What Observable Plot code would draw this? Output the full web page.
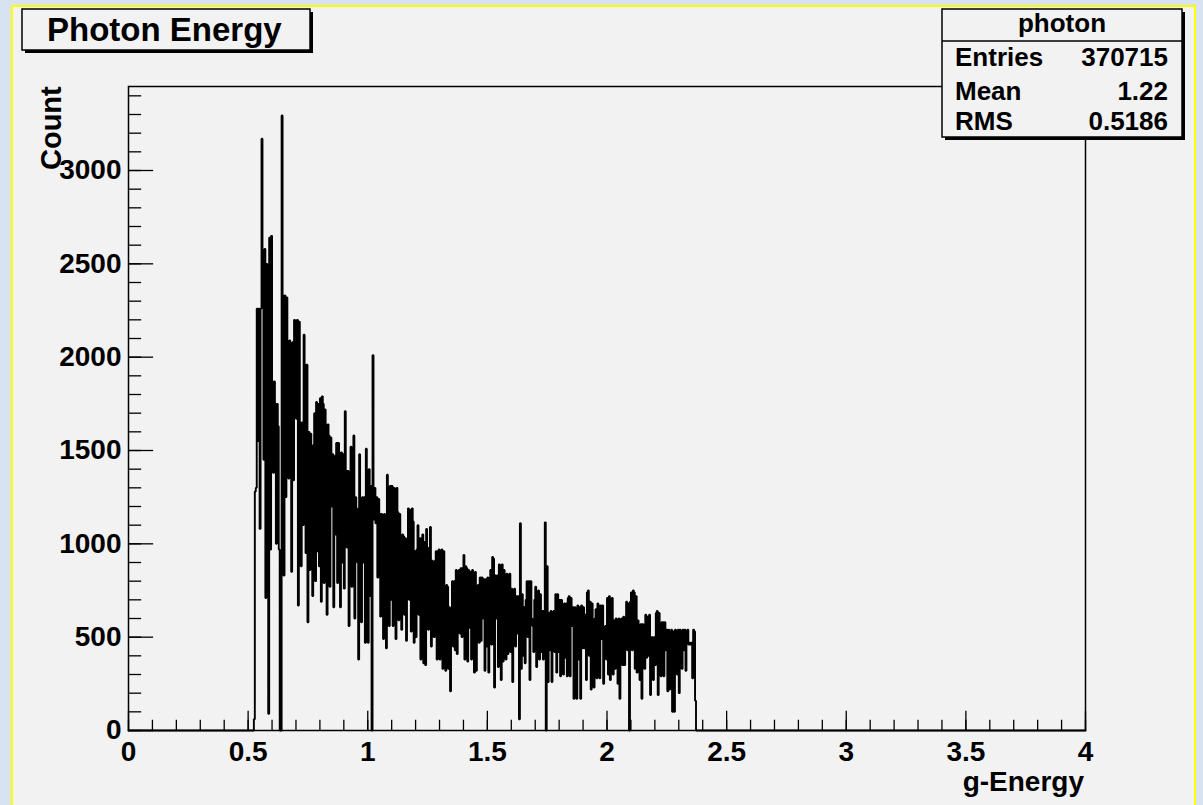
<!DOCTYPE html>
<html>
<head>
<meta charset="utf-8">
<script src="https://cdn.jsdelivr.net/npm/d3@7"></script>
<script src="https://cdn.jsdelivr.net/npm/@observablehq/plot@0.6"></script>
<style>
  html, body { margin: 0; padding: 0; background: #d7e3f0; }
  #wrap { position: relative; width: 1203px; height: 805px; overflow: hidden; background: #d7e3f0; font-family: "Liberation Sans", Arial, sans-serif; }
  #panel { position: absolute; left: 11px; top: 5px; width: 1181px; height: 830px; background: #f2f2f2; border: 2px solid #ffff00; }
  #chart { position: absolute; left: 0; top: 0; }
  #chart svg { max-width: none; }
  #overlay { position: absolute; left: 0; top: 0; pointer-events: none; }
</style>
</head>
<body>
<div id="wrap">
  <div id="panel"></div>
  <div id="chart"></div>
  <svg id="overlay" width="1203" height="805" font-family="Liberation Sans, Arial, sans-serif" font-weight="bold">
    <rect x="25" y="12" width="288" height="41" fill="#000"></rect>
    <rect x="22" y="9" width="288" height="41" fill="#f2f2f2" stroke="#000" stroke-width="1.5"></rect>
    <text id="title" x="47" y="41" font-size="33"></text>
    <rect x="945" y="12" width="240" height="128" fill="#000"></rect>
    <rect x="942" y="9" width="240" height="128" fill="#f2f2f2" stroke="#000" stroke-width="1.5"></rect>
    <line x1="942" x2="1182" y1="41" y2="41" stroke="#000" stroke-width="1.5"></line>
    <g id="stats" font-size="26"></g>
    <text id="ylabel" transform="translate(61,170) rotate(-90)" font-size="29"></text>
    <text id="xlabel" x="1084" y="791" text-anchor="end" font-size="28"></text>
  </svg>
</div>
<script>
// ---- Data ----
const chartTitle = "Photon Energy";
const xAxisTitle = "g-Energy";
const yAxisTitle = "Count";
const statsName = "photon";
const statsLabels = ["Entries", "Mean", "RMS"];
const statsValues = ["370715", "1.22", "0.5186"];

const xTicks = [0, 0.5, 1, 1.5, 2, 2.5, 3, 3.5, 4];
const xTickLabels = ["0", "0.5", "1", "1.5", "2", "2.5", "3", "3.5", "4"];
const yTicks = [0, 500, 1000, 1500, 2000, 2500, 3000];
const yTickLabels = ["0", "500", "1000", "1500", "2000", "2500", "3000"];
const xDomain = [0, 4];
const yDomain = [0, 3450];

// histogram bins: first bin low edge and bin width (g-Energy units)
const binStart = 0.52;
const binWidth = 0.004;
// counts per bin, one row per 0.1 of g-Energy (first row starts at 0.52)
const counts = [
  0, 60, 1280, 1300, 2260, 1550, 2260, 1080, 2260, 3170, 2570, 1450, 2580, 710, 2500, 1220, 90, 2640, 970, 2650,
  1870, 1380, 1870, 1750, 1000, 1750, 1630, 970, 0, 0, 3295, 2330, 830, 2330, 1250, 2320, 1990, 1350, 2090, 1960, 850, 2080, 1340, 2200, 2190,
  1670, 2200, 670, 2190, 1650, 880, 1650, 1100, 2120, 1960, 950, 1960, 580, 1600, 860, 1590, 1520, 720, 1530, 1700, 800, 1760, 960, 1750, 880,
  1780, 690, 1790, 1750, 790, 1720, 1100, 620, 1640, 1580, 770, 1570, 1200, 1480, 660, 1470, 1050, 1540, 790, 1540, 1480, 660, 1490, 900, 1480,
  760, 1710, 1390, 980, 1390, 560, 1380, 1520, 770, 1300, 1580, 600, 1250, 1190, 900, 380, 1480, 1100, 580, 1250, 900, 1250, 470, 1510, 1330,
  470, 1400, 720, 1310, 0, 2010, 1130, 1300, 1110, 1250, 820, 1240, 1160, 610, 1160, 1150, 490, 1160, 1050, 440, 1370, 900, 560, 1310, 700,
  1310, 560, 1300, 1170, 490, 1300, 1170, 590, 1160, 900, 540, 1050, 1040, 620, 1030, 480, 1020, 1190, 700, 1180, 530, 1190, 1120, 470, 960,
  500, 970, 1100, 620, 1030, 380, 1030, 1050, 360, 1010, 350, 1080, 980, 540, 970, 1090, 450, 910, 900, 500, 910, 960, 380, 960, 970,
  380, 960, 970, 330, 960, 700, 320, 780, 770, 330, 660, 210, 640, 800, 450, 800, 430, 860, 410, 850, 860, 520, 870, 500, 870,
  940, 380, 880, 870, 370, 860, 550, 850, 380, 860, 840, 310, 850, 320, 770, 780, 470, 820, 480, 820, 600, 810, 320, 810, 450,
  820, 310, 810, 860, 460, 930, 920, 230, 830, 600, 830, 340, 890, 880, 270, 890, 370, 860, 770, 380, 840, 410, 650, 840, 420,
  760, 260, 710, 760, 450, 720, 520, 720, 60, 1110, 330, 730, 400, 660, 360, 700, 800, 500, 800, 270, 800, 600, 560, 420, 700,
  770, 340, 730, 750, 380, 730, 420, 640, 380, 640, 1115, 0, 880, 260, 630, 430, 640, 260, 630, 640, 420, 730, 310, 730, 420,
  700, 290, 700, 660, 300, 680, 390, 680, 290, 710, 720, 290, 710, 560, 660, 170, 660, 650, 170, 670, 380, 660, 170, 670, 440,
  660, 440, 620, 270, 740, 750, 400, 690, 220, 680, 580, 230, 600, 650, 280, 680, 670, 280, 670, 490, 670, 250, 500, 560, 380,
  710, 300, 720, 270, 700, 710, 300, 590, 330, 600, 590, 250, 600, 170, 590, 600, 350, 610, 350, 600, 690, 430, 680, 0, 690,
  740, 430, 750, 740, 330, 720, 310, 590, 560, 270, 570, 170, 570, 480, 330, 620, 390, 610, 400, 620, 190, 500, 500, 270, 500,
  350, 630, 640, 190, 630, 460, 290, 580, 580, 290, 580, 430, 540, 210, 540, 220, 530, 540, 100, 530, 100, 540, 400, 300, 540,
  200, 540, 530, 330, 540, 430, 540, 320, 470, 540, 460, 470, 460, 470, 280, 540, 530, 160, 0, 0
];

// ---- Build the outline of the histogram (bin edges -> counts) ----
const binEnd = binStart + counts.length * binWidth;
const outline = [
  {x: xDomain[0], y: 0},
  {x: binStart, y: 0},
  ...counts.map((c, i) => ({x: binStart + i * binWidth, y: c})),
  {x: binEnd, y: 0},
  {x: xDomain[1], y: 0}
];

const xMinor = d3.range(0, 4.0001, 0.1).map(v => +v.toFixed(1));
const yMinor = d3.range(0, 3401, 100);

const font = "Liberation Sans, Arial, sans-serif";

const chart = Plot.plot({
  width: 1203,
  height: 805,
  marginLeft: 128,
  marginRight: 118,
  marginTop: 86,
  marginBottom: 75,
  x: {domain: xDomain, axis: null},
  y: {domain: yDomain, axis: null},
  style: {background: "transparent", fontFamily: font, color: "black", overflow: "visible"},
  marks: [
    Plot.line(outline, {x: "x", y: "y", curve: "step-after", stroke: "black", strokeWidth: 1.9, strokeLinejoin: "miter"}),
    // y axis ticks (inside the frame)
    Plot.ruleY(yMinor, {y: d => d, x1: 0, x2: 0.055, stroke: "black", strokeWidth: 1.3}),
    Plot.ruleY(yTicks, {y: d => d, x1: 0, x2: 0.105, stroke: "black", strokeWidth: 1.3}),
    // x axis ticks (inside the frame)
    Plot.ruleX(xMinor, {x: d => d, y1: 0, y2: 55, stroke: "black", strokeWidth: 1.3}),
    Plot.ruleX(xTicks, {x: d => d, y1: 0, y2: 103, stroke: "black", strokeWidth: 1.3}),
    Plot.frame({stroke: "black", strokeWidth: 1.5}),
    Plot.text(yTicks, {x: 0, y: d => d, text: (d, i) => yTickLabels[i], textAnchor: "end", dx: -7,
      fontSize: 28, fontWeight: "bold", fill: "black"}),
    Plot.text(xTicks, {x: d => d, y: 0, text: (d, i) => xTickLabels[i], lineAnchor: "top", dy: 11,
      fontSize: 28, fontWeight: "bold", fill: "black"})
  ]
});
document.getElementById("chart").appendChild(chart);

// ---- Texts of the title box, stats box and axis titles ----
document.getElementById("title").textContent = chartTitle;
document.getElementById("ylabel").textContent = yAxisTitle;
document.getElementById("xlabel").textContent = xAxisTitle;
const ns = "http://www.w3.org/2000/svg";
const stats = document.getElementById("stats");
function addText(x, y, t, anchor) {
  const el = document.createElementNS(ns, "text");
  el.setAttribute("x", x);
  el.setAttribute("y", y);
  el.setAttribute("text-anchor", anchor);
  el.textContent = t;
  stats.appendChild(el);
}
addText(1062, 32, statsName, "middle");
const rowBaselines = [66, 100, 130];
statsLabels.forEach((lab, i) => {
  addText(955, rowBaselines[i], lab, "start");
  addText(1168, rowBaselines[i], statsValues[i], "end");
});
</script>
</body>
</html>
